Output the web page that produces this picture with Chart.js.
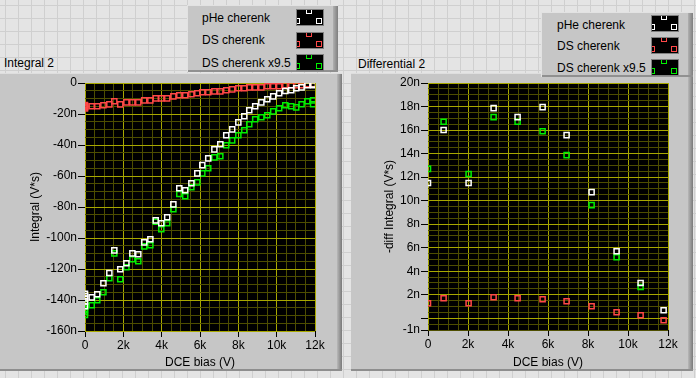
<!DOCTYPE html>
<html><head><meta charset="utf-8">
<script src="https://cdn.jsdelivr.net/npm/chart.js@4/dist/chart.umd.min.js"></script>
<style>
html,body{margin:0;padding:0;}
body{width:696px;height:378px;overflow:hidden;position:relative;font-family:"Liberation Sans",Arial,sans-serif;
 background-color:#e4e4e4;
 background-image:linear-gradient(to right,#cfcfcf 1px,transparent 1px),linear-gradient(to bottom,#cfcfcf 1px,transparent 1px);
 background-size:13px 13px;background-position:5px 5px;}
.frame{position:absolute;background:#c6c6c6;box-sizing:border-box;border-top:1px solid #dedede;}
.frame .rs{position:absolute;top:0;right:0;width:5px;bottom:0;background:linear-gradient(to right,#b8b8b8,#7a7a7a);}
.frame .bs{position:absolute;left:0;right:0;bottom:0;height:2px;background:#8e8e8e;}
canvas{position:absolute;}
.title{position:absolute;font-size:12px;line-height:14px;color:#000;white-space:nowrap;}
.legend{position:absolute;background:#c6c6c6;box-sizing:border-box;border-top:1px solid #e2e2e2;border-left:1px solid #e2e2e2;}
.legend .rs{position:absolute;top:0;right:0;width:5px;bottom:0;background:linear-gradient(to right,#b0b0b0,#7e7e7e);}
.legend .bs{position:absolute;left:0;right:0;bottom:0;height:2px;background:#909090;}
.lt{position:absolute;font-size:12px;line-height:14px;color:#000;white-space:nowrap;}
.sw{position:absolute;width:28px;height:17px;box-sizing:border-box;border:1px solid #808080;background:#000;overflow:hidden;}
.sq{position:absolute;width:6px;height:6px;box-sizing:border-box;border:1.5px solid #fff;}
</style></head>
<body>
<div class="frame" style="left:0;top:73px;width:342px;height:298px"><div class="rs"></div><div class="bs"></div></div>
<div class="frame" style="left:351px;top:73px;width:342px;height:298px"><div class="rs"></div><div class="bs"></div></div>
<div class="title" style="left:4px;top:56px">Integral 2</div>
<div class="title" style="left:358px;top:57px">Differential 2</div>
<canvas id="c1" width="340" height="296" style="left:0;top:74px"></canvas>
<canvas id="c2" width="342" height="296" style="left:351px;top:74px"></canvas>
<div class="legend" id="lg1" style="left:187px;top:5px;width:151px;height:67px"><div class="rs"></div><div class="bs"></div></div>
<div class="legend" id="lg2" style="left:541px;top:12px;width:152px;height:65px"><div class="rs"></div><div class="bs"></div></div>
<script>
// ---------- data ----------
const seriesNames = ['pHe cherenk', 'DS cherenk', 'DS cherenk x9.5'];
const seriesColors = ['#ffffff', '#ff4848', '#00f000'];

// Integral 2 : DCE bias (kV)
const biasInt = [0,0,0,0,0,0.35,0.64,0.96,1.27,1.53,1.84,2.16,2.47,2.78,3.09,3.41,3.69,3.98,4.29,4.61,4.92,5.23,5.55,5.86,6.12,6.43,6.75,7.06,7.37,7.68,8.0,8.31,8.57,8.88,9.2,9.51,9.82,10.13,10.45,10.76,11.02,11.3,11.6,11.9,11.9];
// Integral (nV*s)
const intPHe = [-136,-137.5,-139,-141,-144,-138.3,-136.3,-129.2,-122.6,-108.0,-120.2,-116.3,-109.9,-110.5,-102.8,-100.8,-88.6,-90.5,-86.6,-78.3,-67.9,-69.2,-64.7,-58.3,-53.0,-48.6,-42.8,-39.5,-33.7,-29.9,-25.4,-21.5,-17.6,-15.0,-12.5,-10.5,-8.6,-6.6,-5.2,-4.7,-3.4,-2.8,-1.5,-1.5,-1.0];
const intDS = [-14.2,-14.8,-15.3,-15.8,-16.5,-15.0,-15.0,-14.4,-13.8,-11.8,-13.8,-12.5,-12.5,-12.5,-11.2,-11.2,-9.9,-9.9,-9.9,-8.6,-7.9,-7.9,-7.3,-6.6,-6.0,-6.0,-5.4,-5.4,-4.7,-4.1,-3.4,-3.4,-2.8,-2.8,-2.8,-2.1,-2.1,-2.1,-1.5,-1.5,-1.5,-1.5,-0.8,-0.8,-0.8];
const intDSx = [-142.5,-144.5,-146,-147.5,-149.7,-143.4,-140.2,-135.0,-126.0,-109.9,-126.6,-118.9,-113.7,-115.0,-105.4,-104.7,-89.5,-94.4,-90.5,-81.5,-71.6,-73.1,-67.3,-64.1,-58.3,-55.0,-48.0,-47.3,-40.2,-37.0,-33.7,-30.5,-26.6,-23.4,-22.1,-20.8,-18.3,-16.3,-14.4,-15.0,-15.7,-13.7,-11.8,-11.2,-13.7];

// Differential 2 : DCE bias (kV)
const biasDiff = [0,0.78,2.03,3.28,4.48,5.73,6.93,8.18,9.43,10.63,11.78];
// -diff Integral (nV*s)
const diffPHe = [11.5,16.0,11.5,17.86,17.1,17.95,15.57,10.72,5.70,3.0,0.68];
const diffDS = [1.28,1.70,1.28,1.79,1.70,1.62,1.45,1.02,0.51,0.26,-0.17];
const diffDSx = [12.7,16.7,12.26,17.1,16.7,15.9,13.87,9.62,5.19,2.66,-1.9];

// ticks
const xMajorStep = 2, xMinorStep = 0.5;
const intYMin = -160, intYMax = 0, intYMajor = 20, intYMinor = 5;
const diffYMin = -1, diffYMax = 20, diffYMajor = 2, diffYMinor = 0.5;

// ---------- styles ----------
const FONT = {family: '"Liberation Sans", Arial, sans-serif', size: 12};
const MAJ = '#a8a800', MIN = '#4e4e00';
const isMul = (v, m) => Math.abs(v / m - Math.round(v / m)) < 1e-6;

const plotBg = {id: 'plotBg', beforeDraw(chart) {
  const {ctx, chartArea: a} = chart;
  ctx.save(); ctx.fillStyle = '#000'; ctx.fillRect(a.left, a.top, a.right - a.left, a.bottom - a.top); ctx.restore();
}};

function pts(xs, ys) { return xs.map((x, i) => ({x: x, y: ys[i]})); }

function ds(i, xs, ys) {
  return {label: seriesNames[i], data: pts(xs, ys), showLine: false, pointStyle: 'rect',
    pointRadius: 3.6, pointBorderWidth: 1.5, borderColor: seriesColors[i], backgroundColor: 'rgba(0,0,0,0)', clip: 0};
}

function xScale(h) {
  return {type: 'linear', min: 0, max: 12,
    afterFit: s => { s.height = h; s.paddingLeft = 0; s.paddingRight = 0; },
    ticks: {stepSize: xMinorStep, maxTicksLimit: 1000, autoSkip: false, maxRotation: 0, minRotation: 0, padding: 1, color: '#000', font: FONT,
      callback: v => isMul(v, xMajorStep) ? (Math.abs(v) < 1e-9 ? '0' : Math.round(v) + 'k') : ''},
    grid: {color: c => (c.tick && isMul(c.tick.value, xMajorStep)) ? MAJ : MIN,
      tickColor: c => (c.tick && isMul(c.tick.value, xMajorStep)) ? '#000' : 'rgba(0,0,0,0)', tickLength: 6, lineWidth: 1},
    border: {display: false},
    title: {display: true, text: 'DCE bias (V)', color: '#000', font: FONT, padding: 0}};
}

function yScale(w, min, max, major, minor, title, labelFn, isMajorLine, isTick) {
  return {type: 'linear', min: min, max: max,
    afterFit: s => { s.width = w; s.paddingTop = 0; s.paddingBottom = 0; },
    ticks: {stepSize: minor, maxTicksLimit: 1000, autoSkip: false, padding: 1, color: '#000', font: FONT, callback: labelFn},
    grid: {color: c => (c.tick && isMajorLine(c.tick.value)) ? MAJ : MIN,
      tickColor: c => (c.tick && isTick(c.tick.value)) ? '#000' : 'rgba(0,0,0,0)', tickLength: 7, lineWidth: 1},
    border: {display: false},
    title: {display: true, text: title, color: '#000', font: FONT, padding: 0}};
}

function make(id, datasets, pad, xs, ys) {
  return new Chart(document.getElementById(id), {
    type: 'scatter',
    data: {datasets: datasets},
    options: {responsive: false, animation: false, devicePixelRatio: 1, events: [],
      layout: {padding: pad},
      plugins: {legend: {display: false}, tooltip: {enabled: false}, title: {display: false}},
      scales: {x: xs, y: ys}},
    plugins: [plotBg]
  });
}

make('c1', [ds(0, biasInt, intPHe), ds(1, biasInt, intDS), ds(2, biasInt, intDSx)],
  {left: 28, top: 9, right: 25, bottom: 0}, xScale(39),
  yScale(57, intYMin, intYMax, intYMajor, intYMinor, 'Integral (V*s)',
    v => isMul(v, intYMajor) ? (Math.abs(v) < 1e-9 ? '0' : Math.round(v) + 'n') : '',
    v => isMul(v, intYMajor), v => isMul(v, intYMajor)));

make('c2', [ds(0, biasDiff, diffPHe), ds(1, biasDiff, diffDS), ds(2, biasDiff, diffDSx)],
  {left: 31, top: 9, right: 25, bottom: 0}, xScale(40),
  yScale(46, diffYMin, diffYMax, diffYMajor, diffYMinor, '-diff Integral (V*s)',
    v => Math.abs(v - diffYMin) < 1e-9 ? '-1n' : (Math.abs(v) < 1e-9 ? '' : (isMul(v, diffYMajor) ? Math.round(v) + 'n' : '')),
    v => isMul(v, diffYMajor), v => isMul(v, diffYMajor) || Math.abs(v - diffYMin) < 1e-9));

// ---------- legends ----------
function legend(id, textLeft, tops, swLeft, swTops) {
  const box = document.getElementById(id);
  const r = box.getBoundingClientRect();
  seriesNames.forEach((n, i) => {
    const t = document.createElement('div');
    t.className = 'lt'; t.textContent = n;
    t.style.left = (textLeft - r.left) + 'px'; t.style.top = (tops[i] - r.top) + 'px';
    box.appendChild(t);
    const s = document.createElement('div');
    s.className = 'sw';
    s.style.left = (swLeft - r.left) + 'px'; s.style.top = (swTops[i] - r.top) + 'px';
    [[9, -2], [-3, 8], [19, 8]].forEach(p => {
      const q = document.createElement('div');
      q.className = 'sq'; q.style.left = p[0] + 'px'; q.style.top = p[1] + 'px';
      q.style.borderColor = seriesColors[i];
      s.appendChild(q);
    });
    box.appendChild(s);
  });
}
legend('lg1', 201, [10, 32, 54.5], 295, [8, 30.5, 52.5]);
legend('lg2', 556, [16.5, 37.5, 60], 650, [14, 36, 58]);
</script>
</body></html>
